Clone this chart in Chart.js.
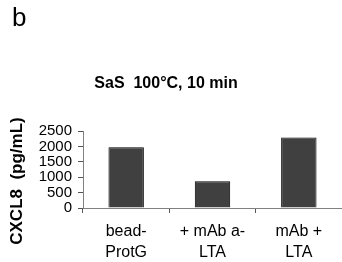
<!DOCTYPE html>
<html>
<head>
<meta charset="utf-8">
<script src="https://cdn.jsdelivr.net/npm/chart.js@4"></script>
<style>
  body { margin: 0; background: #fff; }
  #wrap { position: relative; width: 342px; height: 262px; }
</style>
</head>
<body>
<div id="wrap"><canvas id="chart" width="342" height="262"></canvas></div>
<script>
const panelLetter = "b";
const chartTitle = "SaS  100°C, 10 min";
const yTitle = "CXCL8  (pg/mL)";
const categories = [["bead-", "ProtG"], ["+ mAb a-", "LTA"], ["mAb +", "LTA"]];
const values = [1970, 870, 2290];
const yTicks = [0, 500, 1000, 1500, 2000, 2500];

const FONT = "'Liberation Sans', Arial, sans-serif";

// extra texts: panel letter, title, rotated y label
const textPlugin = {
  id: "texts",
  afterDraw(chart) {
    const ctx = chart.ctx;
    ctx.save();
    ctx.fillStyle = "#000";
    ctx.textBaseline = "middle";
    ctx.font = "26px " + FONT;
    ctx.textAlign = "left";
    ctx.fillText(panelLetter, 12, 19);
    ctx.font = "bold 16px " + FONT;
    ctx.textAlign = "center";
    ctx.fillText(chartTitle, 166, 84);
    ctx.font = "bold 17px " + FONT;
    ctx.translate(17, 181);
    ctx.rotate(-Math.PI / 2);
    ctx.fillText(yTitle, 0, 0);
    ctx.restore();
  }
};

new Chart(document.getElementById("chart"), {
  type: "bar",
  data: {
    labels: categories,
    datasets: [{
      data: values,
      backgroundColor: "#404040",
      borderColor: "#000",
      borderWidth: 1,
      barPercentage: 0.41,
      categoryPercentage: 1
    }]
  },
  options: {
    responsive: false,
    animation: false,
    layout: { padding: { top: 131, right: 0, left: 0, bottom: 0 } },
    plugins: { legend: { display: false }, tooltip: { enabled: false } },
    scales: {
      x: {
        afterFit(scale) { scale.height = 54; },
        grid: { offset: true, drawOnChartArea: false, tickLength: 5, color: "#555" },
        border: { color: "#808080", width: 1 },
        ticks: { color: "#000", font: { family: FONT, size: 16, lineHeight: 1.3 }, padding: 8, maxRotation: 0 }
      },
      y: {
        min: 0,
        max: 2500,
        afterFit(scale) { scale.width = 83; },
        afterBuildTicks(scale) { scale.ticks = yTicks.map(v => ({ value: v })); },
        grid: { drawOnChartArea: false, tickLength: 5, color: "#555" },
        border: { color: "#808080", width: 1 },
        ticks: {
          color: "#000",
          autoSkip: false,
          font: { family: FONT, size: 15, lineHeight: 1 },
          padding: 6,
          callback: v => String(v)
        }
      }
    }
  },
  plugins: [textPlugin]
});
</script>
</body>
</html>
